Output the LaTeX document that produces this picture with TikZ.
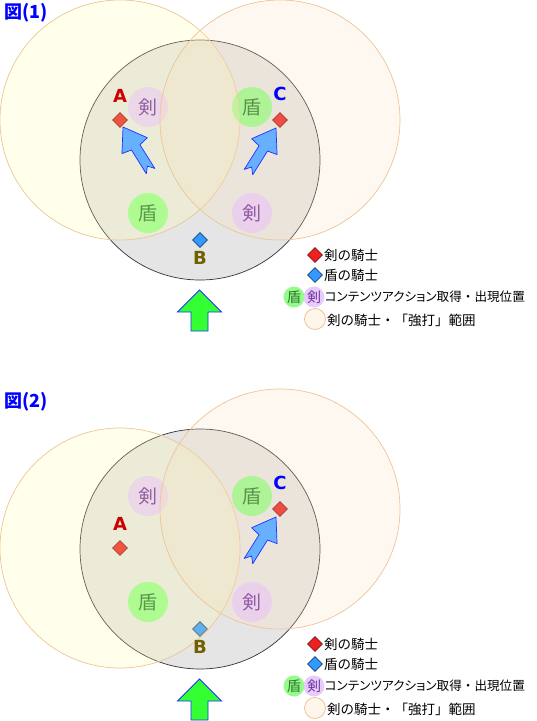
\documentclass[tikz,border=0pt]{standalone}
\usepackage{fontspec}
\setmainfont{Noto Sans CJK JP}
\newfontfamily\kanafont[RawFeature=+palt]{Noto Sans CJK JP}
\newfontfamily\tagfont{DejaVu Sans}
\usetikzlibrary{shapes.geometric,positioning}

\definecolor{arenagray}{RGB}{229,229,229}
\definecolor{yellowzone}{RGB}{255,255,170}
\definecolor{peachzone}{RGB}{255,225,190}
\definecolor{zoneline}{RGB}{238,196,150}
\definecolor{swordred}{RGB}{238,32,32}
\definecolor{shieldblue}{RGB}{51,153,255}
\definecolor{swordfill}{RGB}{230,204,250}
\definecolor{swordtext}{RGB}{112,48,160}
\definecolor{shieldfill}{RGB}{150,250,140}
\definecolor{shieldtext}{RGB}{40,120,40}
\definecolor{chargeblue}{RGB}{102,176,255}
\definecolor{chargeline}{RGB}{30,50,255}
\definecolor{advancegreen}{RGB}{51,255,51}
\definecolor{tagolive}{RGB}{112,96,0}

\begin{document}
\begin{tikzpicture}[x=1pt,y=-1pt,
  arena/.style={circle,draw=black!80,line width=0.7pt,fill=arenagray,minimum size=240pt,inner sep=0pt},
  zone/.style={circle,draw=zoneline,line width=0.7pt,fill opacity=0.23,minimum size=240pt,inner sep=0pt},
  item/.style={circle,inner sep=0pt,minimum size=40pt,font=\fontsize{19}{19}\selectfont},
  sword/.style={item,fill=swordfill,text=swordtext},
  shield/.style={item,fill=shieldfill,text=shieldtext},
  minisword/.style={sword,minimum size=21pt,font=\fontsize{14}{14}\selectfont},
  minishield/.style={shield,minimum size=21pt,font=\fontsize{14}{14}\selectfont},
  knight/.style={diamond,inner sep=0pt,minimum size=15pt,line width=0.6pt},
  redknight/.style={knight,fill=swordred,draw=swordred!55!black},
  blueknight/.style={knight,fill=shieldblue,draw=shieldblue!45!black},
  tag/.style={inner sep=0pt,font=\tagfont\bfseries\fontsize{18}{18}\selectfont},
  title/.style={anchor=west,inner sep=0pt,text=blue,font=\bfseries\fontsize{18}{18}\selectfont},
  legendtext/.style={anchor=west,inner sep=0pt,font=\fontsize{13.5}{14}\selectfont},
  charge/.pic={\draw[fill=chargeblue,draw=chargeline,line width=0.7pt,line join=round]
    (0,0) -- (-22,15) -- (-24,5) -- (-52,5) -- (-46,0) -- (-52,-5) -- (-24,-5) -- (-22,-15) -- cycle;},
  advance/.pic={\draw[fill=advancegreen,draw=chargeline,line width=0.8pt]
    (0,0) -- (22,22) -- (8.5,22) -- (8.5,41) -- (-8.5,41) -- (-8.5,22) -- (-22,22) -- cycle;}
  ]
  \useasboundingbox (0,0) rectangle (537,721);

  \foreach \n/\ay in {1/120,2/159} {
  \begin{scope}[shift={(0,{(\n-1)*389})}]
    \node[title] (title) at (4,13) {図(\n)};

    % battle area and content spots
    \node[arena] (arena) at (200,160) {};
    \node[sword]  (s1) at (148,107) {剣};
    \node[shield] (d1) at (252,107) {盾};
    \node[shield] (d2) at (148,213) {盾};
    \node[sword]  (s2) at (252,213) {剣};

    % knights
    \node[redknight]  (A) at (120,\ay) {};
    \node[redknight]  (C) at (280,120) {};
    \node[blueknight] (B) at (200,240) {};

    % strike ranges of the sword knights
    \node[zone,fill=yellowzone] (zoneA) at (A) {};
    \node[zone,fill=peachzone]  (zoneC) at (C) {};

    \node[tag,text=red!80!black] (tA) [above=10pt of A] {A};
    \node[tag,text=blue]         (tC) [above=11pt of C] {C};
    \node[tag,text=tagolive]     (tB) [below=3pt of B] {B};

    \ifnum\n=1
      \pic[rotate=122] at ([shift={(3,7)}]A) {charge};
    \fi
    \pic[rotate=58] at ([shift={(-4,8)}]C) {charge};
    \pic at (199.5,290) {advance};

    % legend
    \node[redknight]  (lr) at (315,255) {};
    \node[legendtext] (lrt) at (324,255) {剣の騎士};
    \node[blueknight] (lb) at (315,275) {};
    \node[legendtext] (lbt) at (324,275) {盾の騎士};
    \node[minishield] (ld) at (294,297) {盾};
    \node[minisword]  (ls) at (314,297) {剣};
    \node[legendtext,font=\fontsize{12.6}{14}\selectfont] (lst) at (324.5,297) {{\kanafont コンテンツアクション}取得・出現位置};
    \node[circle,draw=zoneline,fill=peachzone!30,line width=0.8pt,minimum size=21pt,inner sep=0pt] (lz) at (315,319) {};
    \node[legendtext] (lzt) at (327,320) {剣の騎士・「強打」範囲};
  \end{scope}
  }
\end{tikzpicture}
\end{document}
